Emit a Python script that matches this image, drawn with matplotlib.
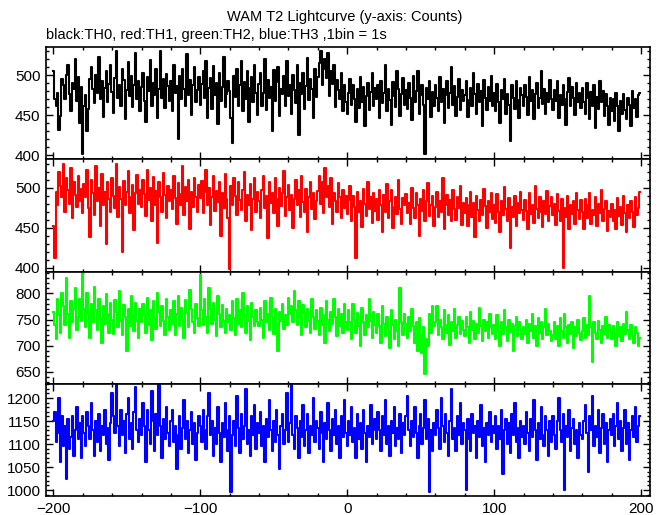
import matplotlib
matplotlib.use("Agg")
import matplotlib.pyplot as plt
import numpy as np
from matplotlib.ticker import MultipleLocator

plt.rcParams['font.family'] = ['Liberation Sans', 'DejaVu Sans']

title = "WAM T2 Lightcurve (y-axis: Counts)"
subtitle = "black:TH0, red:TH1, green:TH2, blue:TH3 ,1bin = 1s"

time_start = -200  # first bin, 1 bin = 1 s

th0 = [
505,470,462,478,431,449,495,488,470,500,512,476,455,490,483,520,468,497,440,485,
402,461,475,430,458,495,510,482,465,500,478,522,470,493,448,484,505,466,489,512,
479,453,496,530,471,487,462,508,494,445,481,516,474,499,460,488,527,470,493,455,
485,502,468,441,497,480,519,462,490,475,508,446,483,530,472,495,459,501,486,468,
492,455,513,478,486,420,499,470,507,483,461,526,475,494,450,488,510,467,481,498,
463,489,505,472,518,447,484,496,458,511,475,490,439,502,468,485,522,460,477,493,
480,446,415,499,473,508,462,487,518,455,491,470,505,442,484,497,466,512,478,450,
489,503,461,478,520,457,494,472,485,430,506,468,491,510,449,483,476,499,462,517,
474,488,452,500,481,465,513,425,490,477,503,458,486,521,469,495,482,447,508,473,
498,515,530,487,508,520,496,527,474,505,489,512,460,494,481,470,503,455,487,466,
452,478,495,463,487,470,441,482,459,498,467,485,436,474,490,456,479,502,461,484,
470,488,447,493,465,478,512,455,482,469,438,491,474,460,505,483,449,477,496,463,
481,458,490,472,444,499,466,480,505,451,475,487,463,402,484,470,493,448,479,462,
488,471,455,497,466,482,440,475,492,459,478,510,463,486,449,473,495,457,481,468,
475,492,448,469,484,461,503,476,452,489,466,480,437,494,471,457,485,468,499,462,
478,455,489,466,440,481,470,495,452,476,463,418,487,471,458,492,469,447,484,475,
462,488,473,450,497,468,481,445,476,490,459,472,505,464,483,451,478,466,494,470,
457,481,468,492,446,475,463,488,470,438,479,496,461,485,472,450,490,467,478,459,
484,466,452,490,471,445,479,462,487,434,473,458,493,467,480,449,476,462,438,471,
455,470,443,478,462,430,468,451,476,457,445,472,463,436,480,459,470,448,475,478,
]

th1 = [
452,412,495,478,520,503,488,530,470,512,497,480,525,462,508,491,476,515,483,499,
468,505,489,522,475,438,510,493,466,527,484,500,452,518,479,495,430,508,486,470,
512,490,475,530,463,501,486,420,509,478,495,521,469,488,504,447,493,516,480,498,
476,510,492,465,523,485,500,458,514,479,496,431,507,488,470,519,491,462,502,484,
498,473,515,487,455,506,492,478,528,466,501,484,510,449,495,476,513,489,470,504,
487,509,468,495,522,478,500,453,488,515,471,496,482,507,440,493,475,518,486,462,
398,502,479,513,490,466,508,485,472,497,520,458,491,478,505,447,486,512,470,495,
483,462,498,515,475,490,437,507,481,494,468,512,486,452,500,477,493,521,465,488,
504,472,491,450,486,510,478,497,463,515,482,470,499,445,488,508,474,493,461,484,
496,515,480,507,468,525,489,502,476,512,455,494,483,470,506,488,462,498,475,490,
467,485,502,458,490,476,412,495,470,483,451,499,480,465,508,474,489,456,493,471,
486,460,497,478,445,491,470,505,462,483,498,450,476,489,467,510,473,455,487,479,
492,469,481,455,500,475,462,494,478,440,486,471,498,459,483,506,465,479,490,452,
476,495,463,484,470,512,448,479,491,466,485,458,497,473,460,488,475,503,454,481,
469,487,452,478,495,463,481,438,490,472,458,485,466,499,477,450,483,470,494,461,
478,456,492,470,445,483,466,501,474,459,487,425,476,463,490,452,481,468,495,472,
460,485,471,448,493,467,479,456,502,474,462,488,470,451,483,467,496,458,477,489,
466,480,453,492,471,459,486,400,475,463,490,448,479,467,484,455,494,472,461,485,
470,448,486,462,478,493,455,472,466,489,452,480,468,497,458,474,483,446,471,464,
480,458,472,449,487,465,476,453,490,468,445,479,462,484,470,451,488,466,475,495,
]

th2 = [
765,740,712,790,758,725,800,775,740,830,760,715,785,745,770,810,730,755,790,748,
840,770,735,800,760,715,780,745,812,768,730,790,752,705,775,742,798,760,725,782,
750,722,788,765,735,805,748,720,778,755,690,770,738,795,760,728,782,748,715,770,
745,780,758,725,792,740,768,710,785,752,732,800,765,738,775,748,720,790,755,730,
768,742,785,720,760,795,738,772,750,715,788,762,735,806,770,745,725,780,752,738,
835,768,740,790,755,725,810,770,742,782,750,718,795,760,735,778,748,725,770,745,
758,730,785,752,720,790,742,768,735,800,758,725,775,748,710,782,755,738,768,745,
738,772,750,715,785,745,760,730,792,755,722,770,742,690,765,748,780,732,758,740,
792,760,775,745,805,768,740,785,752,720,778,762,735,770,748,725,790,755,732,768,
748,720,772,740,758,705,785,750,728,765,742,790,755,718,770,738,760,725,780,745,
730,768,745,712,780,750,725,762,738,700,772,745,720,758,735,790,748,715,765,740,
725,760,738,705,775,742,718,755,730,695,768,740,712,750,728,700,810,745,720,760,
742,715,755,728,770,738,705,745,690,752,720,685,735,645,712,700,760,725,775,738,
745,775,720,750,735,712,768,740,725,758,702,745,728,770,715,740,755,722,748,730,
718,755,735,705,765,730,748,712,742,725,772,738,708,750,728,745,715,760,735,722,
740,712,758,728,700,745,722,768,735,708,750,726,742,690,738,755,718,745,730,712,
735,722,750,705,742,728,760,715,738,700,752,725,745,712,735,770,720,742,728,708,
720,745,712,738,700,752,728,715,760,735,705,740,722,745,695,735,718,750,725,710,
728,752,715,740,720,795,735,668,745,725,712,748,730,705,738,722,755,715,740,728,
712,738,725,700,745,718,735,708,742,722,765,730,712,740,718,705,735,725,700,715,
]

th3 = [
1150,1170,1105,1125,1200,1060,1160,1095,1140,1025,1155,1090,1115,1160,1075,1130,1180,1110,1145,1070,
1160,1125,1095,1170,1140,1110,1190,1130,1075,1150,1105,1165,1085,1140,1120,1175,1100,1135,1065,1145,
1210,1160,1125,1230,1140,1095,1175,1120,1150,1080,1165,1200,1110,1145,1090,1170,1225,1130,1105,1155,
1120,1190,1140,1060,1175,1130,1100,1215,1150,1085,1165,1120,1230,1140,1070,1155,1110,1180,1125,1095,
1150,1175,1105,1140,1045,1120,1160,1090,1135,1195,1110,1150,1080,1130,1170,1100,1145,1065,1125,1160,
1140,1105,1175,1130,1090,1160,1210,1120,1150,1075,1135,1100,1180,1125,1060,1145,1115,1190,1130,1085,
1160,995,1120,1150,1095,1205,1135,1080,1165,1110,1140,1220,1100,1130,1075,1160,1120,1185,1090,1145,
1125,1170,1095,1140,1060,1155,1115,1195,1130,1085,1150,1105,1175,1120,1045,1140,1165,1100,1130,1210,
1105,1145,1230,1120,1090,1160,1135,1070,1150,1115,1185,1095,1130,1165,1080,1140,1120,1200,1105,1150,
1135,1090,1170,1125,1060,1145,1110,1190,1130,1085,1155,1120,1175,1100,1140,1070,1160,1115,1195,1125,
1095,1150,1120,1180,1105,1135,1070,1165,1110,1145,1090,1175,1125,1060,1140,1115,1185,1100,1130,1155,
1110,1170,1130,1085,1160,1120,1195,1100,1140,1075,1150,1125,1180,1095,1135,1110,1165,1080,1145,1120,
1160,1205,1130,1095,1150,1115,1180,1125,1070,1140,1165,1100,1135,1195,1110,1155,995,1130,1085,1145,
1120,1175,1135,1090,1200,1140,1105,1165,1125,1075,1150,1220,1110,1135,1085,1160,1120,1190,1100,1145,
1130,1000,1155,1110,1085,1165,1125,1140,1070,1150,1115,1185,1095,1135,1060,1145,1120,1170,1105,1140,
1125,1160,1090,1140,1110,1175,1035,1130,1155,1100,1145,1080,1165,1120,1190,1105,1135,1070,1150,1115,
1140,1100,1170,1125,1085,1155,1115,1195,1130,1065,1145,1110,1180,1120,1095,1160,1130,1075,1150,1105,
1160,1120,1090,1150,1200,1130,1105,1165,1000,1140,1115,1175,1085,1135,1155,1100,1130,1070,1145,1120,
1110,1150,1185,1125,1040,1160,1130,1205,1095,1140,1115,1175,1080,1135,1165,1100,1145,1060,1130,1155,
1120,1165,1095,1140,1190,1110,1150,1085,1135,1175,1100,1145,1065,1130,1160,1115,1180,1105,1140,1160,
]

series = [th0, th1, th2, th3]
colors = ['#000000', '#ff0000', '#00ff00', '#0000ff']
ylims = [(395, 535), (395, 536), (627, 842), (987, 1231)]
yticks = [[400, 450, 500], [400, 450, 500], [650, 700, 750, 800],
          [1000, 1050, 1100, 1150, 1200]]
xticks = [-200, -100, 0, 100, 200]

fig = plt.figure(figsize=(6.69, 5.15), dpi=100)
left, right = 46 / 669, 650 / 669
top, bottom = 1 - 47 / 515, 1 - 496 / 515
h = (top - bottom) / 4

for i, (vals, c) in enumerate(zip(series, colors)):
    ax = fig.add_axes([left, top - (i + 1) * h, right - left, h])
    t = np.arange(len(vals)) + time_start
    ax.plot(t, vals, color=c, lw=1.5, drawstyle='steps-mid', antialiased=True)
    ax.set_xlim(-205, 206)
    ax.set_ylim(*ylims[i])
    ax.set_yticks(yticks[i])
    ax.set_xticks(xticks)
    ax.xaxis.set_minor_locator(MultipleLocator(20))
    ax.yaxis.set_minor_locator(MultipleLocator(10))
    ax.tick_params(which='both', direction='in', top=True, right=True,
                   width=1.0, labelsize=11, pad=4)
    ax.tick_params(which='major', length=5)
    ax.tick_params(which='minor', length=2.5)
    for s in ax.spines.values():
        s.set_linewidth(1.2)
    if i < 3:
        ax.tick_params(labelbottom=False)

fig.text(345 / 669, 1 - 17 / 515, title, ha='center', va='center', fontsize=10.5)
fig.text(46 / 669, 1 - 35 / 515, subtitle, ha='left', va='center', fontsize=10.5)

fig.savefig('out.png', dpi=100)
